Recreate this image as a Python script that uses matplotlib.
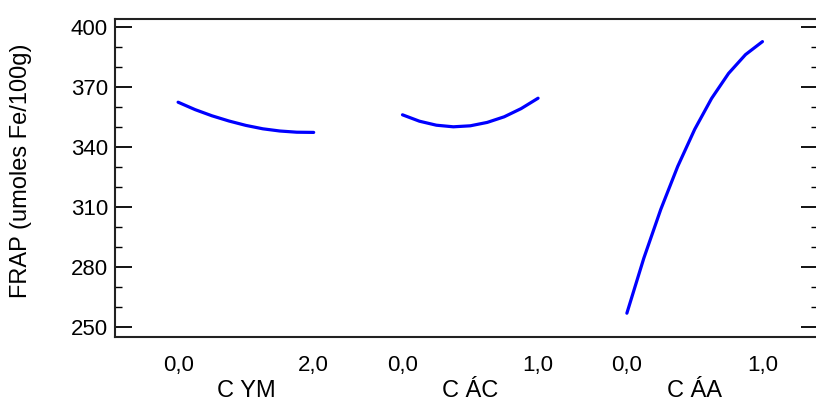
import matplotlib
matplotlib.use("Agg")
import matplotlib.pyplot as plt
from matplotlib.ticker import MultipleLocator

plt.rcParams['font.family'] = ['Liberation Sans', 'DejaVu Sans']

# factors and their low/high levels (tick labels)
factors = ["C YM", "C ÁC", "C ÁA"]
levels = [("0,0", "2,0"), ("0,0", "1,0"), ("0,0", "1,0")]
y_ticks = [250, 280, 310, 340, 370, 400]

# fraction of each factor's range where the curve was read
frac = [0, 0.125, 0.25, 0.375, 0.5, 0.625, 0.75, 0.875, 1.0]

# FRAP (umoles Fe/100g)
frap_ym = [362.6, 358.9, 355.8, 353.2, 351.0, 349.3, 348.2, 347.6, 347.5]
frap_ac = [356.3, 353.1, 351.1, 350.3, 350.8, 352.5, 355.3, 359.4, 364.6]
frap_aa = [257.1, 284.6, 309.0, 330.5, 349.0, 364.5, 377.0, 386.4, 392.9]
series = [frap_ym, frap_ac, frap_aa]

period = 1.655  # spacing between factor panels (in panel widths)

fig = plt.figure(figsize=(8.16, 4.01), dpi=100)
ax = fig.add_axes([0.141, 0.1596, 0.8615, 0.793])

for i, vals in enumerate(series):
    xs = [i * period + f for f in frac]
    ax.plot(xs, vals, color="#0000ff", lw=2.3, solid_capstyle="round")

ax.set_xlim(-0.465, 4.72)
ax.set_ylim(245.2, 404.2)

ax.set_yticks(y_ticks)
ax.yaxis.set_minor_locator(MultipleLocator(10))
ax.tick_params(axis="y", which="both", direction="in", right=True,
               labelsize=16, pad=5)
ax.tick_params(axis="y", which="major", length=12, width=1.3)
ax.tick_params(axis="y", which="minor", length=5, width=1.0)

ticks, labels = [], []
for i, (lo, hi) in enumerate(levels):
    ticks += [i * period, i * period + 1]
    labels += [lo, hi]
ax.set_xticks(ticks)
ax.set_xticklabels(labels, fontsize=16)
ax.tick_params(axis="x", length=0, pad=13)

for i, name in enumerate(factors):
    ax.text(i * period + 0.5, -0.17, name, transform=ax.get_xaxis_transform(),
            ha="center", va="center", fontsize=17)

for s in ax.spines.values():
    s.set_linewidth(1.5)
    s.set_color("#222222")

fig.text(21 / 816, 1 - 171 / 401, "FRAP (umoles Fe/100g)", rotation=90,
         ha="center", va="center", fontsize=17)

fig.savefig("out.png", dpi=100)
